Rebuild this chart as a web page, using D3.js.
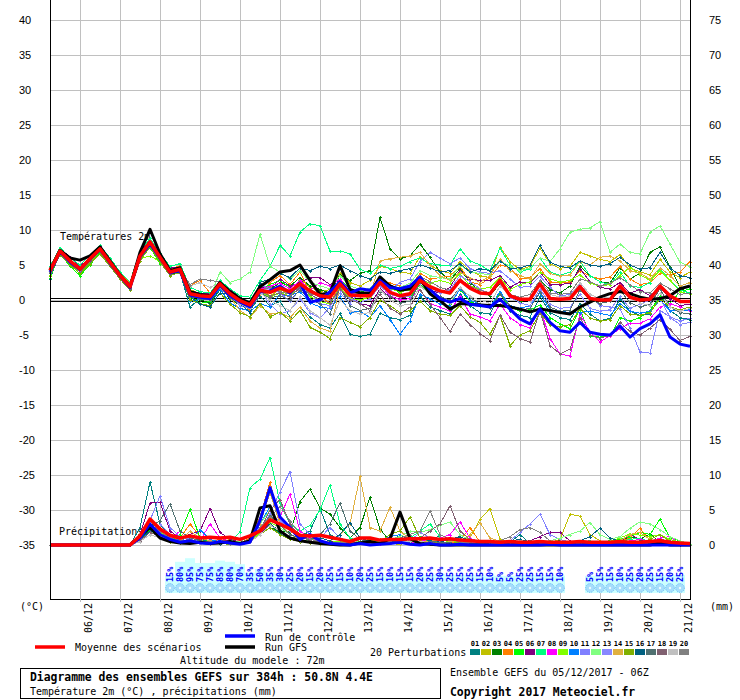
<!DOCTYPE html>
<html>
<head>
<meta charset="utf-8">
<script src="https://cdn.jsdelivr.net/npm/d3@7"></script>
<style>
  body { margin: 0; background: #fff }
  svg { display: block }
</style>
</head>
<body>
<div id="chart"></div>
<script>
// GEFS ensemble, 05/12/2017 06Z, 6-hourly steps 0..384h
var dayLabels = ['06/12','07/12','08/12','09/12','10/12','11/12','12/12','13/12','14/12','15/12','16/12','17/12','18/12','19/12','20/12','21/12']
var tempTicks = [-35,-30,-25,-20,-15,-10,-5,0,5,10,15,20,25,30,35,40]
var precipTicks = [0,5,10,15,20,25,30,35,40,45,50,55,60,65,70,75]
var memberNames = ['01','02','03','04','05','06','07','08','09','10','11','12','13','14','15','16','17','18','19','20']
var memberColors = ['#008080','#c0c000','#008000','#ff8000','#00ff00','#800080','#00ff80','#ff00ff','#80ff00','#0080ff',
                    '#8080ff','#80ff80','#8888ff','#e0b040','#80b000','#006080','#507070','#806070','#c0c0c0','#808080']

// 2m temperature (°C)
var tempMean = [4.2,7.0,5.6,4.4,5.9,7.3,5.4,3.5,1.9,6.3,8.3,6.1,4.0,4.4,0.9,0.6,0.5,2.3,0.9,-0.1,-0.7,1.4,1.1,1.7,1.2,2.3,1.3,0.6,0.4,2.3,0.7,0.6,0.6,2.5,1.1,0.6,0.9,2.8,1.9,1.3,1.0,2.8,1.7,1.0,0.9,2.8,0.6,0.1,0.1,2.3,0.2,0.1,0.2,1.9,0.2,0.0,0.0,2.0,0.4,0.0,0.1,2.0,0.6,-0.2,-0.2]
var tempGfs = [4.3,7.1,6.0,5.7,6.3,7.6,5.6,3.6,1.8,6.8,10.1,6.6,4.2,4.6,1.2,0.8,0.6,2.5,1.2,0.2,-0.4,1.9,2.9,4.0,4.2,5.0,2.8,0.8,1.0,4.9,1.5,1.0,1.0,3.3,2.0,1.4,1.6,3.0,0.9,-0.1,-1.3,-0.5,-0.6,-0.7,-0.8,-0.8,-1.0,-1.3,-1.7,-1.3,-1.5,-1.8,-2.0,-1.0,-0.3,0.4,0.9,1.2,0.9,0.4,0.1,0.2,0.6,1.6,2.0]
var tempCtrl = [4.0,6.9,5.4,4.3,5.8,7.2,5.3,3.4,1.8,6.2,8.0,6.0,3.9,4.2,0.7,0.4,0.2,2.1,0.6,-0.3,-1.0,1.2,1.3,2.0,1.0,2.4,-0.3,0.0,1.2,2.6,1.0,1.6,1.4,2.8,1.8,1.6,2.0,3.3,1.5,0.2,-0.3,0.2,-0.6,-0.8,-1.0,0.1,-1.3,-2.7,-3.4,-1.3,-3.2,-4.4,-4.6,-3.2,-4.6,-4.9,-5.0,-3.7,-5.3,-4.1,-3.4,-2.1,-5.3,-6.3,-6.6]
var t01 = [3.0,6.8,5.2,4.0,5.5,7.0,5.0,3.2,1.5,6.0,7.8,5.5,3.8,4.0,-1.0,0.2,-0.6,1.5,-0.5,-1.2,-1.5,0.5,-0.8,-0.2,-2.4,-1.0,-2.4,-3.5,-4.0,-1.9,-4.9,-5.2,-4.9,-1.9,-2.5,-2.8,-2.2,0.5,-1.0,-1.5,-2.0,0.8,-0.8,-1.8,-2.0,1.0,-1.5,-2.2,-2.5,0.5,-1.8,-2.5,-2.8,-0.5,-2.0,-3.0,-2.6,0.2,-1.6,-2.2,-2.0,0.6,-1.5,-2.5,-2.8]
var t02 = [4.5,7.2,5.8,4.6,6.2,7.5,5.6,3.8,2.2,6.6,8.5,6.3,4.3,4.8,1.5,0.9,0.3,2.8,1.2,-0.2,-1.0,1.8,0.6,1.5,0.8,3.0,1.8,1.2,1.5,3.8,2.5,2.0,2.8,4.8,4.5,4.0,3.8,6.2,5.0,4.2,3.8,5.5,4.2,3.5,3.2,7.6,5.5,4.3,4.8,7.4,5.2,4.5,4.8,6.8,6.3,5.8,5.5,6.5,4.6,4.0,3.6,5.8,4.0,3.2,4.0]
var t03 = [4.0,6.5,5.0,4.2,5.6,6.9,5.2,3.3,2.0,6.0,7.9,5.8,3.6,4.1,0.2,0.0,-0.4,1.8,0.2,-0.8,-1.3,0.8,1.5,2.5,2.0,3.2,2.0,1.5,1.0,3.6,2.8,3.8,4.2,11.8,7.3,5.9,6.3,8.0,6.1,4.0,2.8,4.5,2.5,1.2,0.6,2.4,0.5,-0.3,0.2,2.8,1.5,1.0,2.0,4.8,3.5,2.6,2.4,4.6,3.0,3.8,6.8,7.6,4.7,1.8,0.9]
var t04 = [3.8,6.6,5.4,4.6,6.0,7.4,5.5,3.9,2.4,6.4,8.4,6.2,4.4,4.9,2.0,2.8,1.0,2.6,0.5,-0.6,-1.4,0.9,2.5,3.5,2.2,4.0,1.0,0.5,-0.4,2.0,1.2,0.8,0.2,3.0,2.4,2.0,1.8,3.8,3.0,3.2,3.4,4.8,2.6,2.2,3.2,5.0,4.6,3.0,3.2,4.5,2.6,2.4,2.6,4.2,3.4,3.0,3.3,4.8,3.0,2.2,2.5,3.8,3.6,4.0,5.5]
var t05 = [3.2,6.7,4.8,3.5,5.0,6.8,5.6,3.4,2.0,5.8,7.5,5.2,4.5,4.0,0.6,-0.5,-0.2,2.0,0.5,-0.5,-0.9,1.6,2.2,2.8,1.8,2.6,1.5,0.8,0.6,3.0,1.6,1.2,1.4,2.6,2.0,1.0,0.4,2.2,0.8,0.2,-0.5,1.5,-0.2,-0.8,-1.0,1.0,-1.0,-1.6,-1.4,-0.7,-2.5,-3.4,-4.1,-1.3,-5.1,-5.3,-5.2,-2.5,-3.0,-2.5,-1.5,0.5,-0.5,1.2,1.6]
var t06 = [4.6,7.3,6.2,4.8,6.1,7.7,5.9,3.7,2.3,6.9,8.6,6.4,4.6,4.7,1.3,1.0,0.9,2.6,1.4,0.4,-0.4,1.8,1.6,3.0,2.0,2.5,3.2,3.2,2.2,2.8,0.6,-0.5,-0.8,1.6,0.4,0.2,0.6,3.2,1.4,1.0,1.8,4.2,3.0,2.8,2.8,3.5,1.8,2.6,2.4,4.0,2.2,2.2,2.4,4.5,2.6,1.8,1.6,2.5,1.0,1.5,0.6,1.8,0.2,-0.8,-0.6]
var t07 = [4.8,7.5,6.0,5.0,6.4,7.8,6.0,4.0,2.6,7.0,8.8,6.7,4.8,5.2,1.8,1.2,1.0,2.8,1.6,0.6,0.4,2.8,4.8,7.8,6.3,9.7,10.9,10.6,7.0,7.0,6.6,4.4,3.8,5.0,4.5,4.8,5.5,6.0,5.2,5.0,5.0,7.3,5.6,5.0,4.2,7.4,5.0,4.0,4.5,6.0,4.0,3.5,4.0,5.5,3.5,2.6,2.2,4.0,2.0,1.8,2.5,4.5,2.8,1.4,1.0]
var t08 = [4.4,7.1,5.7,4.5,6.0,7.4,5.5,3.6,2.0,6.5,8.2,6.0,4.2,4.6,1.0,0.8,0.7,2.4,1.0,0.0,-0.6,1.5,2.0,2.4,1.6,2.8,1.4,2.5,2.0,3.0,1.2,0.6,0.4,2.2,0.6,0.0,0.2,1.5,-0.5,-1.0,-1.6,0.6,-2.0,-2.4,-3.0,-0.6,-2.5,-3.5,-4.0,-1.2,-5.5,-7.7,-8.0,-2.0,-4.6,-6.0,-5.1,-4.1,-3.3,-3.3,-2.7,-1.0,-0.5,-1.0,-1.5]
var t09 = [3.6,6.6,5.2,4.0,5.4,7.0,4.9,3.2,1.6,5.9,6.3,5.5,3.7,4.2,0.4,0.3,0.2,1.9,0.8,-0.6,-0.9,1.2,0.4,1.0,0.6,1.8,0.5,-0.2,-0.6,1.8,0.2,0.0,0.4,2.0,1.6,1.2,1.4,3.0,2.4,2.8,2.4,3.8,2.0,1.6,1.8,3.2,1.5,2.2,2.6,4.0,3.0,2.6,2.8,3.6,2.4,2.0,2.2,3.5,4.7,3.6,2.8,4.2,2.8,1.2,0.8]
var t10 = [4.1,6.8,5.5,4.2,5.7,7.1,5.2,3.3,1.7,6.1,8.1,5.9,3.8,4.3,-0.2,0.1,0.0,1.6,-0.4,-1.2,-1.6,-0.5,-1.0,0.8,0.6,1.2,-0.4,-1.0,-1.2,0.5,-1.8,-1.6,-2.5,-0.8,-2.8,-4.9,-3.0,0.8,0.2,-0.6,-0.8,1.6,0.0,-0.6,-1.0,1.2,-0.8,-1.2,-0.8,1.0,-1.4,-1.6,-1.8,-1.8,-1.6,-1.9,-2.2,-0.5,-1.6,-1.9,-1.6,0.0,-1.5,-1.6,-1.4]
var t11 = [3.9,6.9,5.3,4.1,5.6,7.0,5.1,3.3,1.7,6.0,7.9,5.8,3.9,4.1,0.8,0.2,0.4,2.4,0.6,-0.8,-1.2,2.2,1.6,1.0,-0.2,1.5,1.0,-0.5,-0.8,1.0,-0.5,1.2,0.8,3.2,1.5,2.5,3.0,5.5,6.8,6.0,5.2,6.0,4.5,4.0,3.8,4.2,3.0,1.8,2.0,3.4,1.8,0.6,0.8,2.2,0.4,-0.8,-1.0,-1.3,-4.0,-7.4,-7.6,-1.5,-2.4,-3.0,-2.6]
var t12 = [4.3,7.0,5.8,4.5,6.0,7.3,5.6,3.6,2.1,6.4,8.0,6.0,4.1,4.6,1.1,0.9,0.4,4.0,2.5,3.0,4.0,9.4,4.8,4.0,3.0,4.2,2.6,2.0,1.6,3.5,2.0,1.5,1.6,3.2,2.0,1.8,2.4,4.2,3.5,3.2,3.0,5.0,4.0,3.8,3.6,5.6,4.8,4.2,4.6,6.0,5.5,7.3,9.7,10.1,10.3,11.2,6.8,8.0,6.8,6.6,9.7,10.6,8.0,5.4,4.7]
var t13 = [4.0,7.0,5.5,4.3,5.8,7.1,5.2,3.4,1.8,6.1,8.1,6.0,4.0,4.3,0.7,0.5,0.6,2.2,0.6,-0.3,-0.9,1.4,-0.6,-2.0,-1.5,0.2,-1.8,-2.6,-1.0,1.5,0.2,-0.4,0.2,2.0,0.8,0.4,0.6,2.4,1.8,1.0,1.5,3.5,2.6,1.6,0.8,2.5,0.4,-0.4,-0.8,1.6,-0.6,-1.2,-1.0,0.8,-1.2,-1.6,-1.4,0.5,-1.2,-0.6,0.0,0.3,-2.5,-3.5,-3.2]
var t14 = [4.2,7.1,5.6,4.5,6.0,7.4,5.3,3.6,2.0,6.2,8.3,6.1,4.0,4.4,1.2,0.7,0.2,1.8,0.4,-1.5,-2.5,-0.8,-2.0,-1.8,-2.5,-1.0,-3.0,-4.0,-4.5,2.0,0.5,0.8,0.5,5.6,5.9,6.1,6.3,6.8,5.0,3.5,2.8,4.0,3.2,2.5,3.5,5.8,4.2,3.5,3.0,5.2,3.8,3.4,3.6,5.5,5.0,6.1,6.3,5.6,4.2,3.8,3.0,4.6,3.5,2.0,2.5]
var t15 = [3.5,6.4,5.0,3.8,5.2,6.6,4.8,3.0,1.4,5.6,7.6,5.4,3.5,3.9,0.0,-0.5,-0.8,1.0,-0.6,-1.8,-2.4,-0.5,-2.4,-1.7,-3.0,-1.5,-3.9,-4.6,-5.5,-2.5,-3.2,-3.8,-2.5,0.0,-0.8,-1.8,-1.5,-0.2,-1.5,-2.0,-2.2,-0.8,-2.4,-3.2,-4.9,-2.2,-6.5,-5.0,-4.4,-1.8,-3.6,-3.8,-3.5,-1.2,-2.6,-3.0,-2.8,-0.8,-2.0,-2.2,-1.8,0.2,-1.0,-1.4,-1.0]
var t16 = [4.4,7.2,5.6,4.6,6.0,7.4,5.6,3.7,2.1,6.4,8.4,6.2,4.2,4.5,0.5,-0.6,-1.0,1.0,0.8,-0.5,-1.8,2.5,3.0,3.8,3.2,4.6,4.2,4.8,4.5,5.0,4.2,3.5,3.0,4.0,3.8,4.2,4.5,5.0,4.6,4.0,4.2,5.2,4.0,4.5,4.2,5.6,4.5,4.6,5.0,7.8,5.4,4.8,4.6,5.6,5.0,4.8,5.2,6.1,5.0,4.4,4.6,6.8,4.6,3.5,3.2]
var t17 = [3.8,6.8,5.4,4.2,5.6,7.1,5.0,3.3,1.6,6.0,8.0,5.8,3.7,4.2,0.5,0.2,0.0,2.0,0.3,-0.6,-1.1,1.0,0.3,0.6,0.0,1.4,0.2,-0.6,-2.0,1.8,-0.8,-1.5,-1.2,1.2,0.5,-0.4,-0.2,2.6,1.2,0.5,0.0,1.8,0.4,-0.6,-1.2,0.8,-0.8,-1.4,-1.2,1.2,-1.0,-1.6,-1.5,1.5,0.0,-0.5,-0.2,1.4,-0.4,-1.0,-0.6,1.6,-1.0,-1.8,-2.0]
var t18 = [4.0,6.9,5.5,4.2,5.7,7.1,5.2,3.4,1.7,6.1,8.1,5.9,3.9,4.2,0.6,0.4,0.2,2.0,0.6,-0.5,-1.0,1.2,0.6,1.0,0.4,1.8,0.8,0.0,-0.4,1.6,0.0,-0.5,-1.5,0.8,-1.2,-2.0,-1.0,1.5,-0.6,-2.5,-4.5,-2.0,-3.5,-4.8,-5.8,-2.1,-4.6,-5.5,-6.0,-1.5,-6.5,-7.7,-7.0,-2.5,-5.0,-5.5,-5.0,-3.2,-4.5,-5.0,-4.0,-2.8,-4.2,-5.8,-5.2]
var t19 = [4.1,7.0,5.6,4.3,5.8,7.2,5.3,3.5,1.8,6.2,8.2,6.0,4.0,4.3,2.0,2.5,1.8,2.4,0.5,-0.6,-1.2,1.0,0.0,-0.8,-1.5,0.5,-1.5,-2.5,-3.6,0.0,-1.5,-2.0,-1.8,1.5,0.0,-0.8,-0.6,2.0,0.8,0.2,-0.4,1.8,0.5,0.0,-0.5,2.0,0.6,0.2,-0.2,2.2,0.8,0.4,0.6,2.5,0.8,0.2,0.4,2.2,0.6,-0.4,-0.8,1.0,-1.0,-1.6,-1.2]
var t20 = [4.0,7.2,5.5,4.5,5.9,7.4,5.3,3.5,1.9,6.2,8.4,6.2,4.1,4.4,2.2,3.0,2.8,2.6,1.0,-0.2,-0.8,1.4,1.8,1.2,0.8,2.0,1.0,0.4,0.2,2.4,1.0,0.8,1.0,3.0,2.2,1.6,1.8,3.4,2.6,1.8,1.4,3.0,2.0,1.4,1.0,2.6,0.8,0.4,0.8,2.8,1.0,0.8,1.0,3.0,2.6,2.0,2.4,3.2,2.2,1.2,1.0,2.4,1.6,0.8,1.0]

// 6-hourly precipitation (mm)
var precipMean = [0,0,0,0,0,0,0,0,0,1.3,3.7,2.3,1.4,1.0,1.3,1.0,1.1,1.0,1.1,0.8,1.3,2.0,3.6,3.0,2.3,1.4,1.3,1.4,1.1,0.8,0.5,1.0,1.0,0.7,0.8,0.8,0.9,0.9,1.0,0.8,0.9,0.7,0.6,0.5,0.5,0.4,0.5,0.4,0.4,0.5,0.4,0.4,0.4,0.5,0.4,0.4,0.4,0.5,0.4,0.4,0.5,0.6,0.4,0.3,0.2]
var precipGfs = [0,0,0,0,0,0,0,0,0,1.2,2.5,1.0,0.5,0.3,0.2,0.4,0.2,0.3,0.5,0.2,0.6,5.3,5.6,2.0,1.0,0.6,0.4,0.2,0.1,0.0,0.0,0.3,0.5,0.2,0.9,4.7,0.9,0.2,0.1,0.0,0.0,0.0,0.0,0.0,0.0,0.0,0.0,0.0,0.0,0.0,0.0,0.0,0.0,0.0,0.0,0.0,0.0,0.0,0.0,0.0,0.0,0.3,0.0,0.0,0.0]
var precipCtrl = [0,0,0,0,0,0,0,0,0,1.0,3.0,1.5,0.8,0.4,0.6,0.3,0.2,0.5,0.3,0.1,0.4,3.5,8.2,4.0,2.5,0.8,1.5,0.6,0.2,0.1,0.0,0.2,0.0,0.1,0.2,0.4,0.1,0.0,0.2,0.0,0.0,0.1,0.0,0.0,0.0,0.0,0.0,0.0,0.0,0.0,0.1,0.0,0.0,0.0,0.0,0.0,0.0,0.0,0.0,0.0,0.0,0.0,0.0,0.0,0.0]
var p01 = [0,0,0,0,0,0,0,0,0,2.5,9.0,3.0,1.2,0.8,0.5,0.8,0.4,0.6,0.3,0.2,0.8,2.5,3.0,1.5,1.0,1.2,2.0,5.2,1.5,0.6,0.2,0.3,0.1,0.6,0.5,1.4,0.8,0.5,1.0,1.2,0.4,0.2,0.5,0.2,0.1,0.6,0.4,1.5,0.2,0.4,0.3,0.2,0.2,0.5,0.4,0.3,0.4,0.8,0.3,0.2,0.1,0.3,0.2,0.0,0.0]
var p02 = [0,0,0,0,0,0,0,0,0,1.0,3.5,2.0,1.0,0.5,0.4,0.6,0.5,0.3,0.8,0.2,1.0,2.2,4.0,3.0,1.5,0.8,0.5,0.4,0.3,0.2,0.1,0.4,0.5,0.8,0.2,0.1,0.3,0.6,0.4,0.4,0.3,0.5,1.0,3.7,5.2,0.8,0.3,0.5,0.3,0.2,0.3,0.8,4.4,4.1,1.5,0.6,0.3,0.2,0.5,0.3,0.2,0.4,0.8,0.3,0.1]
var p03 = [0,0,0,0,0,0,0,0,0,1.5,3.0,2.5,1.0,0.6,0.8,0.4,0.6,0.3,0.5,0.2,0.6,1.5,2.5,1.9,1.9,6.2,8.0,5.3,4.4,2.5,1.0,2.5,6.8,2.3,0.5,0.5,0.2,0.3,0.2,0.1,0.3,0.2,0.4,0.2,0.1,0.2,0.5,0.3,0.2,0.1,0.4,0.6,0.3,0.2,0.1,0.4,0.2,0.5,1.2,0.8,1.6,0.4,0.2,0.1,0.0]
var p04 = [0,0,0,0,0,0,0,0,0,1.0,2.5,1.5,0.8,1.0,3.0,1.2,0.5,0.8,0.4,0.3,1.0,4.0,9.0,3.5,2.0,1.0,0.8,0.5,0.3,0.2,0.1,0.3,0.6,0.4,1.0,0.6,0.3,0.8,0.6,0.4,0.2,0.6,2.5,0.4,0.2,0.1,0.3,0.2,0.1,0.2,0.3,0.1,0.2,0.4,0.1,0.2,0.3,0.5,1.0,2.4,0.6,0.3,0.2,0.1,0.0]
var p05 = [0,0,0,0,0,0,0,0,0,0.8,2.2,1.2,0.6,1.5,5.1,1.0,0.5,0.3,0.4,0.2,0.6,2.0,4.5,2.2,1.0,0.6,0.4,0.3,0.2,0.4,0.2,0.1,0.3,0.5,0.2,0.4,0.6,1.2,0.5,0.3,0.2,0.4,0.3,0.2,0.1,0.3,0.2,0.1,0.2,0.4,0.3,0.2,0.1,0.3,0.2,0.4,0.6,0.8,1.2,1.8,1.5,3.7,1.0,0.6,0.2]
var p06 = [0,0,0,0,0,0,0,0,0,1.5,6.0,6.1,2.0,1.0,1.5,2.0,5.2,1.8,0.8,0.4,0.6,1.5,3.0,2.0,1.2,0.6,0.4,0.2,0.5,0.3,0.2,0.1,0.3,0.5,0.6,0.3,0.2,0.4,0.5,0.8,0.6,0.3,0.2,0.1,0.2,0.3,0.2,0.4,0.6,1.2,1.8,1.8,0.6,0.3,0.2,0.1,0.3,0.5,1.5,0.8,0.4,0.2,0.1,0.0,0.0]
var p07 = [0,0,0,0,0,0,0,0,0,1.2,3.0,2.0,1.0,0.6,0.8,0.5,0.4,0.6,0.3,1.9,8.2,9.4,12.5,6.0,3.0,2.0,2.8,5.0,8.6,3.0,1.0,0.5,0.3,0.6,0.4,0.8,1.0,2.0,3.0,1.2,0.6,0.4,0.3,0.2,0.4,0.6,0.3,0.2,0.1,0.3,0.2,0.1,0.2,0.4,0.6,0.3,0.2,0.5,0.8,1.0,0.4,0.2,0.3,0.1,0.0]
var p08 = [0,0,0,0,0,0,0,0,0,0.8,2.0,1.5,0.8,2.0,1.0,0.6,3.0,1.0,0.5,0.3,0.8,2.0,3.5,4.0,7.3,2.0,1.0,0.6,0.4,0.3,0.2,0.5,0.3,0.2,0.4,0.6,0.3,0.5,0.8,1.0,1.5,3.3,1.0,0.4,0.2,0.1,0.3,0.2,0.1,0.2,0.4,0.3,0.2,0.1,0.3,0.2,0.4,0.3,0.6,0.8,0.5,1.0,1.2,0.2,0.0]
var p09 = [0,0,0,0,0,0,0,0,0,1.0,2.5,1.8,1.0,0.5,0.6,0.4,0.3,0.5,0.2,0.1,0.4,1.8,3.2,2.5,1.5,1.0,0.8,0.6,0.4,0.5,0.3,0.2,0.4,0.3,0.2,0.4,0.6,0.4,0.2,0.3,0.5,0.4,0.3,0.2,0.3,0.5,0.4,0.2,0.1,0.3,0.2,0.4,0.3,0.2,0.1,0.3,0.5,1.0,1.6,1.4,1.2,1.5,0.8,0.4,0.1]
var p10 = [0,0,0,0,0,0,0,0,0,0.6,2.0,1.0,0.5,0.8,0.6,2.2,0.8,0.4,0.3,0.2,0.5,3.0,5.5,2.0,1.0,0.5,0.3,0.6,0.4,0.2,0.1,0.3,0.2,0.6,1.2,1.5,0.8,0.4,0.2,0.1,0.3,0.2,0.1,0.2,0.1,0.3,0.2,0.1,0.2,0.3,0.1,0.2,0.3,0.5,0.2,0.1,0.2,0.3,0.1,0.2,0.4,0.3,0.2,0.1,0.0]
var p11 = [0,0,0,0,0,0,0,0,0,1.0,3.5,7.0,2.5,1.2,0.8,0.5,0.6,0.4,0.3,0.2,0.5,2.0,4.5,7.6,10.5,3.0,1.5,1.0,2.5,1.0,0.5,0.3,0.2,0.4,0.6,0.3,0.2,0.4,0.3,0.2,0.1,0.3,0.5,0.3,0.2,0.4,0.6,1.8,3.0,4.4,1.5,0.8,0.4,0.2,0.1,0.3,0.2,0.1,0.3,0.2,0.1,0.2,0.3,0.1,0.0]
var p12 = [0,0,0,0,0,0,0,0,0,0.8,2.0,1.2,0.6,0.4,0.5,0.3,0.2,0.4,0.6,0.5,1.2,3.0,5.0,2.5,1.5,0.8,0.5,0.3,0.4,0.2,0.3,0.5,0.6,0.4,0.8,1.2,2.0,1.8,2.2,2.8,3.3,1.5,0.6,0.3,0.2,0.4,0.6,0.5,0.3,0.4,0.6,1.0,1.5,2.0,3.2,1.5,0.8,1.2,2.4,3.3,3.0,2.2,1.2,0.6,0.2]
var p13 = [0,0,0,0,0,0,0,0,0,0.6,1.8,3.0,1.5,0.8,0.4,0.6,0.3,0.2,0.4,0.3,0.8,2.5,4.0,3.5,2.0,1.2,0.6,0.4,0.3,0.2,0.1,0.3,0.5,0.3,0.2,0.4,0.6,1.8,1.0,0.5,0.3,0.2,0.4,0.3,0.2,0.1,0.3,0.5,0.4,0.2,0.3,0.1,0.2,0.4,0.3,0.2,0.1,0.3,0.2,0.4,0.6,0.8,0.3,0.1,0.0]
var p14 = [0,0,0,0,0,0,0,0,0,1.0,2.5,1.5,0.8,0.5,2.0,1.0,0.6,0.4,0.3,0.2,0.6,3.0,7.5,3.0,1.5,0.8,0.4,0.3,0.5,1.5,3.0,9.8,2.5,2.0,5.4,2.0,0.8,0.4,0.6,0.8,0.5,0.3,1.5,3.2,1.0,0.5,0.3,0.2,0.4,0.3,0.2,0.1,0.3,0.5,0.4,0.2,0.3,0.6,1.5,1.8,0.8,0.4,0.2,0.1,0.0]
var p15 = [0,0,0,0,0,0,0,0,0,0.5,1.5,1.0,0.5,0.3,0.4,0.2,0.3,0.2,0.1,0.2,0.4,1.5,2.5,1.5,0.8,0.5,0.3,0.2,0.4,0.3,0.2,0.5,0.8,0.4,1.5,2.0,4.0,1.0,0.5,0.3,0.2,0.4,0.3,0.2,0.1,0.3,0.2,0.1,0.2,0.3,0.5,0.3,0.2,0.1,0.3,0.2,0.4,0.6,0.4,0.2,0.8,1.5,0.5,0.2,0.0]
var p16 = [0,0,0,0,0,0,0,0,0,0.8,2.0,1.5,0.6,0.4,0.3,0.5,0.4,0.2,0.3,0.2,0.5,2.0,3.0,2.0,1.0,0.6,0.8,1.0,0.6,1.5,3.2,1.0,0.5,0.3,0.6,0.4,0.5,1.0,0.6,0.4,0.8,1.2,0.6,0.3,0.2,0.4,0.6,0.8,0.4,0.3,0.2,0.4,0.3,0.6,1.2,2.4,1.0,0.5,0.3,0.6,0.4,0.2,0.3,0.1,0.0]
var p17 = [0,0,0,0,0,0,0,0,0,1.0,2.5,3.5,5.9,2.0,1.0,0.6,0.4,0.5,0.3,0.2,0.6,2.2,4.2,2.8,1.5,1.0,0.8,1.5,3.0,6.0,2.0,0.8,0.4,0.3,0.2,0.4,0.3,0.2,0.5,0.4,0.3,0.2,0.1,0.3,0.2,0.4,0.3,0.2,0.6,0.4,0.3,0.2,0.1,0.3,0.2,0.4,0.3,0.2,0.5,0.3,0.2,0.4,0.3,0.1,0.0]
var p18 = [0,0,0,0,0,0,0,0,0,0.6,1.8,1.2,0.6,0.4,0.3,0.4,0.2,0.3,0.2,0.1,0.5,2.0,5.0,6.5,3.0,1.2,0.6,0.4,0.3,0.2,0.4,0.3,0.2,0.4,0.3,0.5,0.8,1.0,2.0,3.0,5.6,2.0,0.8,0.4,0.2,0.3,0.2,0.1,0.3,0.2,0.1,0.2,0.3,0.2,0.1,0.3,0.2,0.4,0.3,0.2,0.5,0.8,0.6,0.2,0.0]
var p19 = [0,0,0,0,0,0,0,0,0,0.5,1.5,1.0,0.6,0.4,0.3,0.2,0.4,0.3,0.2,0.1,0.4,1.5,2.8,2.0,1.2,0.6,0.4,0.3,0.2,0.1,0.3,0.2,0.4,0.3,0.2,0.4,0.6,0.5,0.3,0.2,0.1,0.3,0.2,0.4,0.3,0.2,0.4,0.6,0.5,0.3,0.2,0.1,0.3,0.2,0.4,0.3,0.2,0.5,0.4,0.2,0.3,0.6,0.4,0.1,0.0]
var p20 = [0,0,0,0,0,0,0,0,0,1.0,3.0,2.0,1.0,0.6,0.8,0.4,0.5,0.3,0.2,0.3,0.6,2.5,4.0,5.5,3.5,1.5,0.8,0.5,0.3,0.4,0.2,0.3,0.5,0.4,0.6,1.0,1.5,2.0,4.9,1.5,0.8,0.4,0.3,0.2,0.4,0.6,1.2,2.2,2.5,1.8,0.6,0.3,0.2,0.1,0.3,0.2,0.1,0.3,0.2,0.4,0.3,0.2,0.4,0.1,0.0]

// snow probability (%) for steps 12..63
var snowFirstStep = 12
var snowProb = [15,80,95,75,75,85,80,70,35,50,35,30,25,20,15,20,25,15,10,20,25,15,10,15,15,20,25,30,25,25,25,15,10,5,5,25,25,15,15,10,0,0,5,15,15,10,25,20,25,15,20,25]

var tempMembers = [t01,t02,t03,t04,t05,t06,t07,t08,t09,t10,t11,t12,t13,t14,t15,t16,t17,t18,t19,t20]
var precipMembers = [p01,p02,p03,p04,p05,p06,p07,p08,p09,p10,p11,p12,p13,p14,p15,p16,p17,p18,p19,p20]

var W = 740, H = 700
var MONO = '"DejaVu Sans Mono", monospace'
var SANS = '"Liberation Sans", Arial, sans-serif'

var svg = d3.select('#chart').append('svg').attr('width', W).attr('height', H)
svg.append('rect').attr('width', W).attr('height', H).attr('fill', '#fff')

var hourOf = function(i) { return i * 6 }
var x = d3.scaleLinear().domain([0, 384]).range([50, 690])
var yT = d3.scaleLinear().domain([-35, 40]).range([545, 20])
var yP = d3.scaleLinear().domain([0, 75]).range([545, 20])
var crisp = function(v) { return Math.round(v) + 0.5 }

// grid
var grid = svg.append('g').attr('stroke', '#c0c0c0').attr('stroke-width', 1)
grid.selectAll('line.h').data(tempTicks).enter().append('line')
  .attr('x1', 50).attr('x2', 690)
  .attr('y1', function(d) { return crisp(yT(d)) }).attr('y2', function(d) { return crisp(yT(d)) })
grid.selectAll('line.v').data(dayLabels).enter().append('line')
  .attr('x1', function(d, i) { return crisp(x(18 + 24 * i)) }).attr('x2', function(d, i) { return crisp(x(18 + 24 * i)) })
  .attr('y1', 0).attr('y2', 602)

// snow probability strip
var snowTop = d3.scaleLinear().domain([0, 25, 100]).range([576, 575, 557])
var snow = svg.append('g')
var snowData = snowProb.map(function(p, k) { return { p: p, h: hourOf(snowFirstStep + k) } }).filter(function(d) { return d.p > 0 })
snow.selectAll('rect').data(snowData).enter().append('rect')
  .attr('x', function(d) { return x(d.h) - 5 }).attr('width', 10)
  .attr('y', function(d) { return snowTop(d.p) })
  .attr('height', function(d) { return 593 - snowTop(d.p) })
  .attr('fill', '#ccffff')
snow.selectAll('circle.flake').data(snowData).enter().append('circle')
  .attr('cx', function(d) { return x(d.h) }).attr('cy', 588).attr('r', 4.4)
  .attr('fill', '#a6defc').attr('stroke', '#5aaef0').attr('stroke-width', 0.8)
  .attr('stroke-dasharray', '1.2,1')
snow.selectAll('circle.dot').data(snowData).enter().append('circle')
  .attr('cx', function(d) { return x(d.h) }).attr('cy', 588).attr('r', 1.2)
  .attr('fill', '#eefaff')
snow.selectAll('text').data(snowData).enter().append('text')
  .attr('transform', function(d) { return 'translate(' + (x(d.h) + 3) + ',582) rotate(-90)' })
  .attr('font-family', MONO).attr('font-size', 8.5).attr('font-weight', 'bold')
  .attr('fill', '#0000ff')
  .text(function(d) { return d.p + '%' })

// 0 °C double line
svg.append('g').attr('stroke', '#000').attr('stroke-width', 1)
  .selectAll('line').data([-1.5, 1.5]).enter().append('line')
  .attr('x1', 50).attr('x2', 690)
  .attr('y1', function(d) { return Math.round(yT(0)) + d }).attr('y2', function(d) { return Math.round(yT(0)) + d })

// section labels (drawn under the curves)
svg.append('text').attr('x', 60).attr('y', 240).attr('font-family', MONO).attr('font-size', 10).text('Températures 2m')
svg.append('text').attr('x', 59).attr('y', 535).attr('font-family', MONO).attr('font-size', 10).text('Précipitations')

var lineT = d3.line().x(function(d, i) { return x(hourOf(i)) }).y(function(d) { return yT(d) })
var lineP = d3.line().x(function(d, i) { return x(hourOf(i)) }).y(function(d) { return yP(d) })
var plus = 'M-1.5,0H1.5M0,-1.5V1.5'

function drawMember(values, line, yScale, color) {
  var g = svg.append('g')
  g.append('path').attr('d', line(values)).attr('fill', 'none')
    .attr('stroke', color).attr('stroke-width', 1).attr('shape-rendering', 'crispEdges')
  g.selectAll('path.m').data(values).enter().append('path')
    .attr('transform', function(d, i) { return 'translate(' + Math.round(x(hourOf(i))) + ',' + Math.round(yScale(d)) + ')' })
    .attr('d', plus).attr('stroke', color).attr('stroke-width', 1).attr('fill', 'none')
    .attr('shape-rendering', 'crispEdges')
}

tempMembers.forEach(function(v, k) { drawMember(v, lineT, yT, memberColors[k]) })
precipMembers.forEach(function(v, k) { drawMember(v, lineP, yP, memberColors[k]) })

function drawThick(values, line, color, w) {
  svg.append('path').attr('d', line(values)).attr('fill', 'none')
    .attr('stroke', color).attr('stroke-width', w).attr('stroke-linejoin', 'round')
}
drawThick(tempGfs, lineT, '#000', 3)
drawThick(precipGfs, lineP, '#000', 3)
drawThick(tempCtrl, lineT, '#0000ff', 3)
drawThick(precipCtrl, lineP, '#0000ff', 3)
drawThick(tempMean, lineT, '#ff0000', 3.5)
drawThick(precipMean, lineP, '#ff0000', 3.5)

// frame
var frame = svg.append('g').attr('stroke', '#000').attr('stroke-width', 1)
frame.append('line').attr('x1', 50.5).attr('x2', 50.5).attr('y1', 0).attr('y2', 600)
frame.append('line').attr('x1', 690.5).attr('x2', 690.5).attr('y1', 0).attr('y2', 600)
frame.append('line').attr('x1', 50).attr('x2', 691).attr('y1', 599.5).attr('y2', 599.5)
svg.append('g').attr('stroke', '#c0c0c0')
  .selectAll('line').data(dayLabels).enter().append('line')
  .attr('x1', function(d, i) { return crisp(x(18 + 24 * i)) }).attr('x2', function(d, i) { return crisp(x(18 + 24 * i)) })
  .attr('y1', 598).attr('y2', 602)

// axes
var leftAxis = svg.append('g').attr('transform', 'translate(19,0)')
  .call(d3.axisRight(yT).tickValues(tempTicks).tickSize(0).tickPadding(0).tickFormat(function(d) { return String(d) }))
var rightAxis = svg.append('g').attr('transform', 'translate(709,0)')
  .call(d3.axisRight(yP).tickValues(precipTicks).tickSize(0).tickPadding(0).tickFormat(function(d) { return String(d) }))
;[leftAxis, rightAxis].forEach(function(g) {
  g.select('.domain').remove()
  g.attr('font-family', SANS).attr('font-size', 11)
  g.selectAll('text').attr('fill', '#000')
})

svg.append('g').selectAll('text').data(dayLabels).enter().append('text')
  .attr('transform', function(d, i) { return 'translate(' + (x(18 + 24 * i) + 11.5) + ',603) rotate(-90)' })
  .attr('text-anchor', 'end').attr('font-family', MONO).attr('font-size', 10)
  .text(function(d) { return d })

svg.append('text').attr('x', 20).attr('y', 610).attr('font-family', MONO).attr('font-size', 10).text('(°C)')
svg.append('text').attr('x', 710).attr('y', 610).attr('font-family', MONO).attr('font-size', 10).text('(mm)')

// legend
var legend = svg.append('g').attr('font-family', MONO).attr('font-size', 10)
legend.append('line').attr('x1', 35).attr('x2', 65).attr('y1', 647).attr('y2', 647).attr('stroke', '#ff0000').attr('stroke-width', 3.5)
legend.append('text').attr('x', 75).attr('y', 650.5).text('Moyenne des scénarios')
legend.append('line').attr('x1', 225).attr('x2', 255).attr('y1', 636).attr('y2', 636).attr('stroke', '#0000ff').attr('stroke-width', 3.5)
legend.append('text').attr('x', 265).attr('y', 640.5).text('Run de contrôle')
legend.append('line').attr('x1', 225).attr('x2', 255).attr('y1', 647).attr('y2', 647).attr('stroke', '#000').attr('stroke-width', 3.5)
legend.append('text').attr('x', 265).attr('y', 650.5).text('Run GFS')
legend.append('text').attr('x', 180).attr('y', 664).text('Altitude du modele : 72m')
legend.append('text').attr('x', 370).attr('y', 655.5).text('20 Perturbations')

var swatch = legend.selectAll('g.sw').data(memberNames).enter().append('g')
  .attr('transform', function(d, i) { return 'translate(' + (470 + 11 * i) + ',0)' })
swatch.append('rect').attr('x', 0).attr('y', 649).attr('width', 10).attr('height', 6)
  .attr('fill', function(d, i) { return memberColors[i] })
swatch.append('text').attr('x', 5).attr('y', 645.5).attr('text-anchor', 'middle')
  .attr('font-size', 7).attr('font-weight', 'bold').text(function(d) { return d })

// title box
svg.append('rect').attr('x', 20.5).attr('y', 668.5).attr('width', 420).attr('height', 30)
  .attr('fill', 'none').attr('stroke', '#000').attr('stroke-width', 1)
svg.append('text').attr('x', 30).attr('y', 681).attr('font-family', MONO).attr('font-size', 11.4).attr('font-weight', 'bold')
  .text('Diagramme des ensembles GEFS sur 384h : 50.8N 4.4E')
svg.append('text').attr('x', 30).attr('y', 694.5).attr('font-family', MONO).attr('font-size', 10)
  .text('Température 2m (°C) , précipitations (mm)')
svg.append('text').attr('x', 450).attr('y', 675.5).attr('font-family', MONO).attr('font-size', 10)
  .text('Ensemble GEFS du 05/12/2017 - 06Z')
svg.append('text').attr('x', 450).attr('y', 695.5).attr('font-family', MONO).attr('font-size', 11.4).attr('font-weight', 'bold')
  .text('Copyright 2017 Meteociel.fr')
</script>
</body>
</html>
